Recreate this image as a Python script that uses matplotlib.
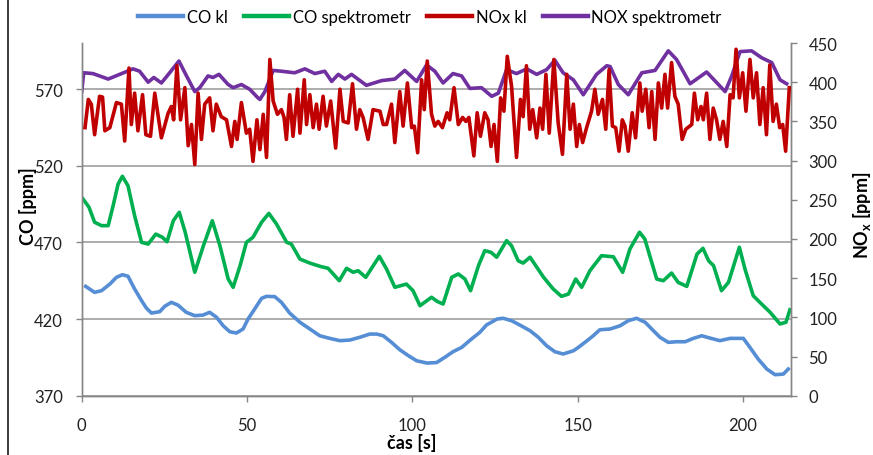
import matplotlib
matplotlib.use("Agg")
import matplotlib.pyplot as plt
from matplotlib.lines import Line2D

plt.rcParams["font.family"] = ["Lato", "DejaVu Sans"]
plt.rcParams["mathtext.fontset"] = "custom"
plt.rcParams["mathtext.rm"] = "Lato"
plt.rcParams["mathtext.bf"] = "Lato:bold"

# --- CO kl [ppm] (left axis)
t_co_kl = [1.2, 3.9, 6.0, 8.5, 10.5, 12.3, 14.0, 16.0, 18.1, 19.6, 21.1, 23.6, 25.1, 27.1,
           29.1, 31.6, 34.2, 36.7, 38.7, 40.8, 42.8, 44.8, 46.8, 48.8, 50.3, 52.3, 54.4,
           55.9, 58.4, 60.4, 62.9, 66.0, 69.0, 72.0, 75.0, 78.1, 81.1, 84.1, 87.1, 89.2,
           91.2, 93.7, 96.2, 98.8, 101.3, 104.4, 107.3, 109.8, 112.3, 114.9, 117.9, 120.4,
           122.4, 125.6, 127.5, 130.0, 132.5, 135.6, 138.1, 140.6, 143.1, 145.6, 148.7,
           150.2, 152.2, 154.7, 156.7, 159.8, 162.8, 165.3, 167.8, 170.4, 172.4, 174.9,
           177.4, 179.9, 182.5, 185.0, 187.5, 190.0, 193.0, 196.1, 200.1, 202.1, 204.6,
           207.2, 209.7, 212.2, 213.7]
co_kl = [441.3, 437.4, 438.5, 442.8, 447.2, 448.9, 447.9, 439.6, 432.0, 427.0, 423.9, 424.8,
         428.3, 430.9, 429.1, 424.4, 422.2, 422.6, 424.4, 421.1, 415.6, 411.7, 410.9, 413.5,
         420.0, 426.5, 433.5, 434.8, 434.6, 430.9, 423.9, 417.9, 413.5, 409.1, 407.4, 405.9,
         406.3, 408.1, 410.2, 410.2, 409.1, 404.8, 400.0, 396.1, 392.8, 391.3, 391.6, 395.0,
         398.7, 401.5, 407.0, 411.3, 416.1, 420.0, 420.5, 418.9, 416.1, 412.4, 408.1, 402.6,
         398.7, 397.2, 399.3, 401.5, 404.8, 409.1, 413.0, 413.5, 415.6, 418.9, 420.5, 417.9,
         413.5, 408.1, 404.8, 405.2, 405.2, 407.4, 409.1, 407.6, 405.9, 407.4, 407.4, 401.5,
         393.9, 387.4, 383.7, 384.1, 387.4]

# --- CO spektrometr [ppm] (left axis)
t_co_spek = [0.4, 2.2, 3.9, 6.0, 8.0, 9.5, 11.0, 12.3, 14.0, 16.0, 18.1, 20.1, 22.4, 24.4,
             25.8, 27.7, 29.5, 31.3, 34.2, 36.8, 39.5, 41.8, 44.3, 45.8, 47.9, 49.8, 51.8,
             54.4, 56.6, 58.9, 62.0, 63.4, 66.0, 69.0, 72.0, 74.5, 77.9, 80.1, 82.1, 83.6,
             85.9, 90.0, 92.2, 94.7, 98.2, 100.2, 102.3, 105.8, 107.5, 109.3, 111.9, 113.9,
             115.9, 117.6, 120.0, 121.9, 123.8, 125.5, 128.5, 130.0, 132.0, 133.5, 135.6,
             139.7, 142.6, 145.1, 147.2, 149.4, 151.2, 153.7, 157.2, 160.8, 163.6, 165.8,
             168.7, 170.3, 173.9, 175.9, 178.4, 180.4, 183.0, 186.1, 187.9, 189.6, 191.1,
             193.5, 195.6, 198.9, 200.6, 203.1, 205.1, 208.2, 211.2, 213.0, 214.2]
co_spek = [498.3, 492.9, 483.1, 480.9, 480.9, 493.9, 508.0, 513.1, 506.9, 487.4, 470.0,
           468.9, 475.4, 473.3, 470.4, 484.1, 489.6, 476.6, 450.5, 467.8, 484.1, 467.8,
           446.1, 440.7, 454.8, 470.0, 473.3, 483.1, 488.9, 482.0, 470.0, 468.9, 459.1,
           456.5, 454.4, 453.1, 445.0, 453.1, 450.5, 451.5, 447.2, 460.9, 452.6, 440.7,
           442.8, 438.5, 428.7, 434.2, 431.5, 429.8, 447.2, 449.4, 446.1, 438.5, 454.8,
           464.6, 463.5, 460.3, 471.1, 467.8, 458.0, 456.5, 460.3, 447.2, 439.6, 434.8,
           436.3, 446.1, 440.7, 451.5, 461.3, 460.6, 450.5, 465.7, 476.6, 472.2, 446.1,
           445.0, 450.0, 443.9, 441.3, 462.4, 466.1, 458.0, 454.8, 438.5, 443.9, 466.8,
           452.6, 435.2, 430.9, 424.4, 416.8, 417.9, 426.1]

# --- NOx kl [ppm] (right axis)
t_nox_kl = [1.0, 2.0, 2.9, 3.9, 5.4, 6.3, 7.0, 8.5, 10.5, 12.0, 13.0, 14.3, 15.0, 16.0, 17.0,
            18.4, 19.4, 20.8, 22.1, 24.1, 26.1, 27.1, 27.8, 28.8, 29.9, 31.2, 32.2, 33.2,
            34.2, 35.2, 36.2, 37.2, 38.7, 39.7, 40.7, 42.2, 43.8, 45.3, 46.3, 47.0, 48.3,
            49.8, 50.8, 51.8, 53.0, 53.9, 54.9, 55.9, 56.9, 57.9, 59.2, 60.4, 61.2, 61.9,
            62.9, 63.9, 65.3, 66.0, 67.3, 68.0, 69.0, 70.0, 71.0, 71.8, 73.0, 74.0, 75.3,
            76.8, 78.1, 79.1, 80.6, 81.9, 83.1, 84.1, 85.1, 86.6, 88.1, 90.2, 91.2, 92.2,
            93.7, 94.7, 96.2, 97.2, 98.5, 99.8, 100.6, 101.6, 102.8, 103.6, 104.5, 105.8,
            106.8, 107.8, 109.1, 110.5, 111.3, 112.6, 113.9, 115.2, 116.2, 117.1, 118.6,
            119.6, 120.6, 121.9, 122.9, 123.8, 124.7, 125.7, 126.7, 127.7, 128.7, 130.0,
            131.5, 132.7, 133.5, 134.5, 135.5, 136.4, 137.6, 138.6, 139.4, 140.4, 141.4,
            142.8, 144.1, 145.4, 146.7, 147.7, 148.7, 149.7, 150.5, 151.5, 152.7, 154.2,
            155.2, 156.2, 157.5, 158.5, 159.5, 160.5, 161.5, 162.5, 163.5, 164.3, 165.3,
            166.5, 167.5, 168.8, 169.5, 170.6, 171.6, 172.4, 173.4, 174.4, 175.4, 176.4,
            177.2, 178.4, 179.4, 180.4, 181.6, 182.7, 184.5, 185.3, 186.3, 187.3, 188.0,
            189.0, 190.0, 191.0, 192.0, 193.0, 194.0, 195.1, 196.1, 197.0, 197.9, 198.9,
            199.9, 200.9, 202.1, 203.1, 204.1, 205.1, 206.1, 207.1, 208.1, 209.1, 210.1,
            211.1, 212.0, 212.9, 214.0]
nox_kl = [342, 378, 372, 333, 382, 381, 338, 342, 374, 372, 325, 418, 346, 386, 338,
          384, 333, 331, 386, 329, 360, 369, 352, 421, 352, 393, 319, 346,
          295, 386, 327, 372, 380, 338, 372, 356, 352, 318, 350, 327, 374,
          335, 340, 299, 352, 314, 359, 304, 429, 376, 359, 365, 355, 327,
          384, 331, 391, 335, 403, 346, 384, 342, 372, 340, 382, 344, 376,
          316, 391, 350, 348, 398, 340, 365, 355, 327, 365, 363, 346, 346,
          372, 323, 388, 344, 399, 342, 344, 310, 403, 365, 427, 359,
          344, 350, 342, 361, 352, 393, 346, 355, 350, 355, 306,
          361, 331, 361, 352, 318, 346, 299, 380, 363, 433, 395,
          304, 378, 356, 421, 340, 365, 329, 367, 340, 410, 335,
          429, 348, 308, 410, 340, 372, 318, 346, 323, 342, 363,
          391, 359, 378, 340, 416, 344, 342, 312, 352, 344, 312,
          361, 329, 399, 363, 391, 342, 388, 327, 399, 367, 410,
          367, 425, 382, 372, 327, 340, 346, 386, 352, 369, 352,
          386, 327, 367, 352, 327, 350, 318, 384, 380, 442, 380,
          412, 363, 429, 380, 412, 346, 393, 333, 422, 350, 372,
          342, 346, 312, 393]

# --- NOX spektrometr [ppm] (right axis)
t_nox_spek = [0.0, 0.6, 3.4, 8.0, 11.5, 15.5, 17.5, 20.1, 21.8, 24.1, 26.6, 29.4, 31.7, 34.2,
              35.7, 38.2, 39.7, 41.5, 44.3, 45.8, 48.3, 50.8, 53.3, 53.9, 55.4, 57.9, 60.4,
              64.4, 67.5, 70.5, 73.5, 75.6, 77.6, 79.6, 81.6, 86.1, 90.7, 94.7, 97.7, 101.3,
              104.3, 106.8, 109.3, 112.3, 114.9, 117.4, 120.9, 124.0, 126.0, 128.5, 131.5,
              134.6, 137.6, 140.6, 143.1, 145.6, 148.7, 151.7, 155.7, 158.8, 159.8, 162.3,
              165.3, 169.4, 173.4, 177.4, 179.9, 184.0, 189.0, 194.6, 196.6, 199.1, 202.6,
              205.7, 208.7, 211.2, 213.2]
nox_spek = [388, 412, 411, 404, 410, 417, 414, 400, 406, 399, 412, 427, 408, 388,
            393, 408, 406, 410, 397, 393, 397, 391, 380, 378, 388, 415, 414,
            412, 417, 411, 414, 401, 410, 404, 410, 396, 402, 404, 415, 401,
            422, 414, 399, 411, 408, 392, 393, 382, 386, 416, 411,
            417, 410, 416, 428, 412, 403, 384, 410, 421, 420, 397,
            384, 412, 415, 440, 429, 398, 413, 388, 408, 439, 440,
            431, 425, 403, 398]

x_ticks = [0, 50, 100, 150, 200]
co_ticks = [370, 420, 470, 520, 570]
nox_ticks = [0, 50, 100, 150, 200, 250, 300, 350, 400, 450]

C_BLUE = "#558ED5"
C_GREEN = "#00B050"
C_RED = "#C00000"
C_PURPLE = "#7030A0"
AX_GREY = "#868686"
GRID_GREY = "#A6A6A6"

fig = plt.figure(figsize=(8.73, 4.56), dpi=100)
ax = fig.add_axes([0.0936, 0.130, 0.8124, 0.7735])
ax2 = ax.twinx()

lw = 2.6
ax.plot(t_co_kl, co_kl, color=C_BLUE, lw=lw, solid_joinstyle="round", label="CO kl")
ax.plot(t_co_spek, co_spek, color=C_GREEN, lw=lw, solid_joinstyle="round", label="CO spektrometr")
ax2.plot(t_nox_spek, nox_spek, color=C_PURPLE, lw=lw, solid_joinstyle="round", zorder=2,
         label="NOX spektrometr")
ax2.plot(t_nox_kl, nox_kl, color=C_RED, lw=lw, solid_joinstyle="round", zorder=3,
         label="NOx kl")

ax.set_xlim(0, 214.5)
ax.set_ylim(370, 600)
ax2.set_ylim(0, 450)
ax.set_xticks(x_ticks)
ax.set_yticks(co_ticks)
ax2.set_yticks(nox_ticks)

ax.grid(axis="y", color=GRID_GREY, lw=1.3)
ax.set_axisbelow(True)

for a in (ax, ax2):
    a.spines["top"].set_visible(False)
    for s in ("left", "right", "bottom"):
        a.spines[s].set_color(AX_GREY)
        a.spines[s].set_linewidth(1.0)
    a.tick_params(colors=AX_GREY, labelcolor="#222222", labelsize=12, length=4.5, width=1.0)

ax.tick_params(axis="x", pad=11)
ax.tick_params(axis="y", pad=9)
ax2.tick_params(axis="y", pad=8)

fig.text(412 / 873, 1 - 443 / 456, "čas [s]", ha="center", va="center",
         fontsize=13, fontweight="bold")
fig.text(28 / 873, 1 - 206 / 456, "CO [ppm]", ha="center", va="center", rotation=90,
         fontsize=13, fontweight="bold")
fig.text(862 / 873, 1 - 215 / 456, r"NO$_\mathbf{x}$ [ppm]", ha="center", va="center",
         rotation=90, fontsize=13, fontweight="bold")

handles = [Line2D([], [], color=c, lw=3.2) for c in (C_BLUE, C_GREEN, C_RED, C_PURPLE)]
labels = ["CO kl", "CO spektrometr", "NOx kl", "NOX spektrometr"]
fig.legend(handles, labels, loc="center", bbox_to_anchor=(430 / 873, 1 - 18 / 456),
           ncol=4, frameon=False, fontsize=12, handlelength=2.7, handletextpad=0.2,
           columnspacing=1.0)

fig.add_artist(Line2D([8 / 873, 8 / 873], [0, 1], transform=fig.transFigure,
                      color="#1a1a1a", lw=1.2))

fig.savefig("out.png", dpi=100)
